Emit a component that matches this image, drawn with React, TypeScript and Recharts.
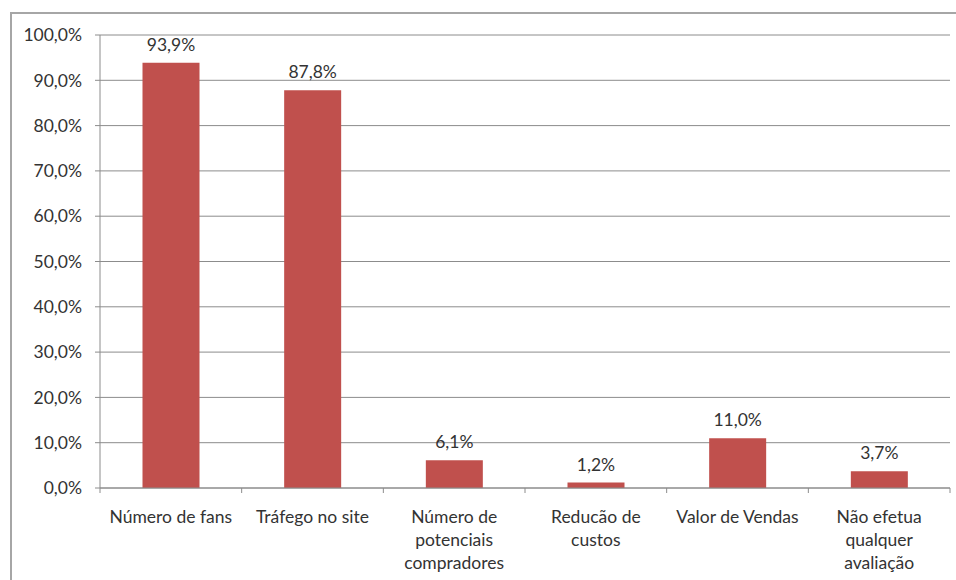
import React from "react"
import { BarChart, Bar, XAxis, YAxis, CartesianGrid, LabelList } from "recharts"

const categories = [
  "Número de fans",
  "Tráfego no site",
  "Número de potenciais compradores",
  "Reducão de custos",
  "Valor de Vendas",
  "Não efetua qualquer avaliação",
]
const values = [93.9, 87.8, 6.1, 1.2, 11.0, 3.7]
const yTicks = [0, 10, 20, 30, 40, 50, 60, 70, 80, 90, 100]

const data = categories.map((name, i) => ({ name, value: values[i] }))

const FONT = "Lato, 'Open Sans', sans-serif"
const FONT_SIZE = 17.5
const TEXT = "#333333"
const GRID = "#8c8c8c"
const BAR = "#c0504d"

const W = 956
const H = 580
const LEFT = 100
const RIGHT = 6
const BAND = (W - LEFT - RIGHT) / categories.length

const pct = (v: number) => v.toFixed(1).replace(".", ",") + "%"

let ctx: CanvasRenderingContext2D | null = null
function measure(s: string) {
  if (!ctx) ctx = document.createElement("canvas").getContext("2d")
  if (!ctx) return s.length * 8
  ctx.font = `${FONT_SIZE}px ${FONT}`
  return ctx.measureText(s).width
}

function wrap(label: string, maxW: number) {
  const words = label.split(" ")
  const lines: string[] = []
  let cur = ""
  for (const w of words) {
    const next = cur ? cur + " " + w : w
    if (cur && measure(next) > maxW) {
      lines.push(cur)
      cur = w
    } else cur = next
  }
  if (cur) lines.push(cur)
  return lines
}

const XTick = (props: any) => {
  const { x, payload, index } = props
  const lines = wrap(payload.value, 136)
  const axisY = 488
  return (
    <g>
      <line x1={x - BAND / 2} x2={x - BAND / 2} y1={axisY} y2={axisY + 5} stroke={GRID} />
      {index === categories.length - 1 && (
        <line x1={x + BAND / 2} x2={x + BAND / 2} y1={axisY} y2={axisY + 5} stroke={GRID} />
      )}
      <text x={x} textAnchor="middle" fill={TEXT} fontSize={FONT_SIZE} fontFamily={FONT}>
        {lines.map((l, i) => (
          <tspan key={i} x={x} y={axisY + 35 + i * 23}>
            {l}
          </tspan>
        ))}
      </text>
    </g>
  )
}

export default function App() {
  return (
    <div style={{ position: "absolute", left: 0, top: 0, width: W, height: H, background: "#fff", overflow: "hidden" }}>
      <div
        style={{
          position: "absolute",
          left: 10,
          top: 12,
          width: 980,
          height: 620,
          border: "2px solid #a6a6a6",
        }}
      />
      <BarChart
        width={W}
        height={H}
        data={data}
        margin={{ top: 35, right: RIGHT, left: 0, bottom: 0 }}
        barCategoryGap="30%"
        style={{ position: "absolute", left: 0, top: 0 }}
      >
        <CartesianGrid vertical={false} stroke={GRID} />
        <XAxis
          dataKey="name"
          axisLine={{ stroke: GRID }}
          tickLine={false}
          interval={0}
          height={92}
          tick={<XTick />}
        />
        <YAxis
          width={LEFT}
          domain={[0, 100]}
          ticks={yTicks}
          interval={0}
          tickFormatter={pct}
          axisLine={{ stroke: GRID }}
          tickLine={{ stroke: GRID }}
          tickSize={5}
          tickMargin={13}
          tick={{ fill: TEXT, fontSize: FONT_SIZE, fontFamily: FONT }}
        />
        <Bar dataKey="value" fill={BAR} isAnimationActive={false}>
          <LabelList
            dataKey="value"
            position="top"
            offset={12}
            formatter={(v: any) => pct(Number(v))}
            fill={TEXT}
            fontSize={FONT_SIZE}
            fontFamily={FONT}
          />
        </Bar>
      </BarChart>
    </div>
  )
}
